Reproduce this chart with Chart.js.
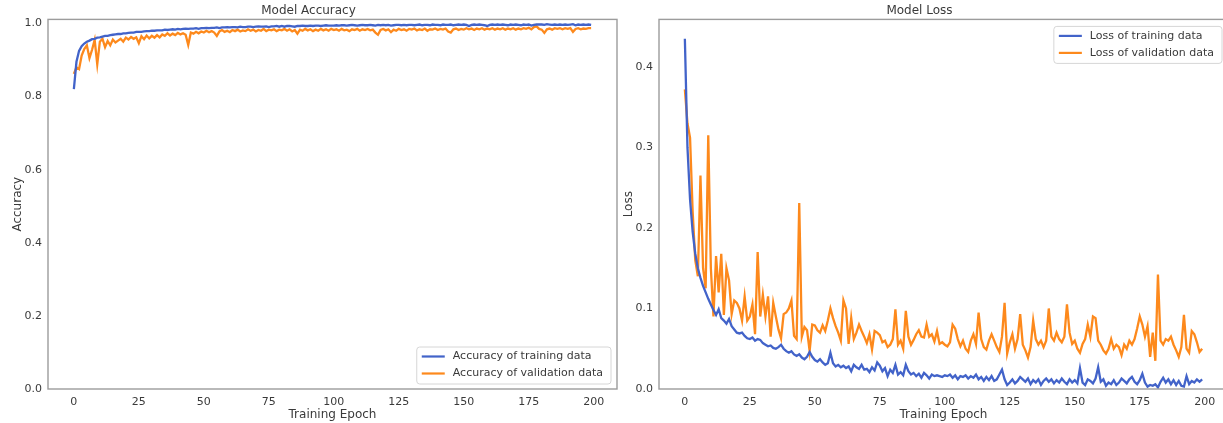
<!DOCTYPE html>
<html>
<head>
<meta charset="utf-8">
<title>Model Accuracy / Model Loss</title>
<script src="https://cdn.jsdelivr.net/npm/chart.js@4.4.1/dist/chart.umd.min.js"></script>
<style>
  html, body { margin: 0; padding: 0; background: #fff; overflow: hidden; }
  body { width: 1223px; height: 423px; position: relative; }
  .box { position: absolute; top: 0; width: 620px; height: 423px; }
  #accBox { left: 0; }
  #lossBox { left: 611px; }
</style>
</head>
<body>
<div class="box" id="accBox"><canvas id="accChart"></canvas></div>
<div class="box" id="lossBox"><canvas id="lossChart"></canvas></div>
<script>
// values, one per epoch (0..199)
const accTrain = [
  0.820, 0.895, 0.925, 0.938, 0.945, 0.950, 0.953, 0.957, 0.958, 0.961,
  0.962, 0.964, 0.966, 0.966, 0.968, 0.969, 0.970, 0.971, 0.971, 0.973,
  0.973, 0.974, 0.975, 0.975, 0.977, 0.977, 0.977, 0.978, 0.979, 0.979,
  0.980, 0.980, 0.981, 0.981, 0.981, 0.983, 0.982, 0.983, 0.984, 0.983,
  0.985, 0.984, 0.985, 0.986, 0.985, 0.986, 0.986, 0.987, 0.985, 0.987,
  0.987, 0.988, 0.987, 0.988, 0.988, 0.989, 0.987, 0.989, 0.989, 0.990,
  0.989, 0.990, 0.990, 0.989, 0.991, 0.990, 0.990, 0.991, 0.991, 0.990,
  0.991, 0.992, 0.991, 0.991, 0.992, 0.990, 0.992, 0.992, 0.993, 0.991,
  0.993, 0.991, 0.993, 0.993, 0.992, 0.991, 0.993, 0.993, 0.994, 0.993,
  0.993, 0.994, 0.993, 0.994, 0.994, 0.993, 0.994, 0.995, 0.994, 0.994,
  0.994, 0.995, 0.994, 0.995, 0.995, 0.994, 0.995, 0.996, 0.995, 0.994,
  0.995, 0.996, 0.995, 0.995, 0.996, 0.995, 0.994, 0.996, 0.995, 0.996,
  0.995, 0.996, 0.994, 0.995, 0.996, 0.996, 0.995, 0.996, 0.995, 0.996,
  0.996, 0.995, 0.996, 0.997, 0.995, 0.996, 0.996, 0.995, 0.997, 0.996,
  0.996, 0.995, 0.997, 0.996, 0.996, 0.997, 0.995, 0.996, 0.997, 0.996,
  0.997, 0.996, 0.993, 0.996, 0.997, 0.996, 0.997, 0.996, 0.995, 0.993,
  0.996, 0.997, 0.996, 0.997, 0.996, 0.997, 0.996, 0.995, 0.997, 0.996,
  0.997, 0.996, 0.995, 0.997, 0.996, 0.997, 0.994, 0.996, 0.997, 0.997,
  0.997, 0.996, 0.998, 0.997, 0.996, 0.997, 0.996, 0.997, 0.996, 0.997,
  0.996, 0.997, 0.998, 0.995, 0.997, 0.996, 0.997, 0.996, 0.997, 0.996
];
const accVal = [
  0.862, 0.880, 0.875, 0.912, 0.930, 0.940, 0.905, 0.928, 0.955, 0.888,
  0.950, 0.958, 0.935, 0.952, 0.940, 0.956, 0.948, 0.953, 0.958, 0.950,
  0.961, 0.956, 0.963, 0.958, 0.962, 0.946, 0.965, 0.957, 0.967, 0.959,
  0.966, 0.961, 0.968, 0.962, 0.970, 0.966, 0.973, 0.967, 0.972, 0.968,
  0.974, 0.970, 0.973, 0.969, 0.941, 0.975, 0.972, 0.977, 0.973, 0.978,
  0.975, 0.980, 0.976, 0.979, 0.975, 0.966, 0.978, 0.982, 0.977, 0.980,
  0.976, 0.982, 0.979, 0.983, 0.978, 0.981, 0.979, 0.984, 0.980, 0.983,
  0.978, 0.982, 0.980, 0.985, 0.979, 0.983, 0.981, 0.984, 0.979, 0.983,
  0.981, 0.985, 0.980, 0.984, 0.978, 0.982, 0.972, 0.983, 0.980, 0.985,
  0.981, 0.984, 0.979, 0.983, 0.980, 0.985, 0.981, 0.984, 0.980, 0.985,
  0.982, 0.984, 0.980, 0.985, 0.981, 0.983, 0.979, 0.984, 0.982, 0.985,
  0.980, 0.984, 0.982, 0.985, 0.981, 0.983, 0.975, 0.969, 0.982, 0.985,
  0.981, 0.984, 0.976, 0.983, 0.980, 0.985, 0.982, 0.984, 0.980, 0.985,
  0.983, 0.986, 0.981, 0.984, 0.982, 0.986, 0.980, 0.984, 0.983, 0.986,
  0.982, 0.985, 0.983, 0.986, 0.978, 0.975, 0.984, 0.986, 0.982, 0.985,
  0.983, 0.987, 0.984, 0.986, 0.982, 0.986, 0.984, 0.987, 0.983, 0.986,
  0.984, 0.987, 0.983, 0.986, 0.984, 0.987, 0.983, 0.986, 0.984, 0.987,
  0.983, 0.986, 0.984, 0.987, 0.985, 0.988, 0.984, 0.990, 0.992, 0.985,
  0.983, 0.974, 0.984, 0.986, 0.983, 0.987, 0.985, 0.987, 0.984, 0.987,
  0.985, 0.987, 0.977, 0.985, 0.987, 0.984, 0.986, 0.985, 0.987, 0.987
];
const lossTrain = [
  0.435, 0.300, 0.235, 0.195, 0.168, 0.150, 0.138, 0.128, 0.120, 0.112,
  0.105, 0.098, 0.092, 0.099, 0.088, 0.085, 0.081, 0.087, 0.078, 0.074,
  0.070, 0.069, 0.070, 0.066, 0.063, 0.062, 0.064, 0.060, 0.062, 0.061,
  0.057, 0.055, 0.053, 0.054, 0.051, 0.050, 0.052, 0.055, 0.050, 0.047,
  0.045, 0.047, 0.043, 0.041, 0.043, 0.039, 0.037, 0.040, 0.046, 0.040,
  0.036, 0.034, 0.037, 0.033, 0.030, 0.032, 0.045, 0.032, 0.028, 0.030,
  0.027, 0.029, 0.026, 0.028, 0.022, 0.030, 0.027, 0.025, 0.030, 0.024,
  0.025, 0.021, 0.027, 0.023, 0.033, 0.029, 0.022, 0.026, 0.016, 0.024,
  0.020, 0.030, 0.018, 0.021, 0.017, 0.030, 0.022, 0.018, 0.020, 0.016,
  0.019, 0.014, 0.020, 0.017, 0.013, 0.018, 0.016, 0.017, 0.016, 0.015,
  0.017, 0.016, 0.018, 0.014, 0.017, 0.012, 0.016, 0.015, 0.017, 0.013,
  0.016, 0.014, 0.018, 0.012, 0.015, 0.010, 0.015, 0.011, 0.016, 0.010,
  0.012, 0.018, 0.024, 0.012, 0.005, 0.008, 0.012, 0.007, 0.010, 0.015,
  0.012, 0.009, 0.013, 0.006, 0.011, 0.008, 0.012, 0.005, 0.010, 0.013,
  0.009, 0.012, 0.007, 0.011, 0.008, 0.013, 0.009, 0.006, 0.012, 0.008,
  0.011, 0.007, 0.026, 0.008, 0.005, 0.012, 0.010, 0.007, 0.013, 0.027,
  0.009, 0.012, 0.004, 0.008, 0.006, 0.011, 0.005, 0.008, 0.013, 0.010,
  0.007, 0.012, 0.015, 0.009, 0.006, 0.011, 0.019, 0.008, 0.003, 0.005,
  0.004, 0.006, 0.002, 0.009, 0.014, 0.008, 0.012, 0.006, 0.011, 0.005,
  0.010, 0.004, 0.003, 0.016, 0.006, 0.010, 0.008, 0.012, 0.009, 0.012
];
const lossVal = [
  0.372, 0.330, 0.312, 0.220, 0.160, 0.140, 0.265, 0.150, 0.125, 0.315,
  0.150, 0.090, 0.165, 0.120, 0.168, 0.092, 0.150, 0.135, 0.093, 0.110,
  0.107, 0.100, 0.085, 0.115, 0.085, 0.090, 0.105, 0.068, 0.170, 0.090,
  0.117, 0.090, 0.115, 0.065, 0.107, 0.090, 0.074, 0.063, 0.093, 0.095,
  0.100, 0.110, 0.066, 0.062, 0.231, 0.065, 0.077, 0.073, 0.047, 0.080,
  0.079, 0.073, 0.070, 0.079, 0.072, 0.085, 0.100, 0.088, 0.078, 0.070,
  0.060, 0.110, 0.100, 0.056, 0.088, 0.062, 0.070, 0.080, 0.072, 0.065,
  0.057, 0.068, 0.049, 0.072, 0.070, 0.067, 0.058, 0.060, 0.052, 0.055,
  0.062, 0.099, 0.055, 0.060, 0.050, 0.097, 0.065, 0.055, 0.061, 0.068,
  0.073, 0.065, 0.064, 0.080, 0.065, 0.068, 0.059, 0.072, 0.056, 0.058,
  0.055, 0.053, 0.058, 0.080, 0.075, 0.062, 0.053, 0.060, 0.050, 0.046,
  0.060, 0.068, 0.056, 0.095, 0.062, 0.052, 0.049, 0.060, 0.068, 0.060,
  0.052, 0.046, 0.065, 0.107, 0.044, 0.058, 0.068, 0.050, 0.062, 0.093,
  0.055, 0.048, 0.039, 0.052, 0.085, 0.062, 0.055, 0.060, 0.052, 0.060,
  0.100, 0.065, 0.060, 0.070, 0.062, 0.058, 0.065, 0.105, 0.070, 0.056,
  0.060, 0.050, 0.045, 0.056, 0.062, 0.080, 0.065, 0.090, 0.088, 0.060,
  0.055, 0.048, 0.044, 0.050, 0.062, 0.050, 0.055, 0.052, 0.042, 0.055,
  0.050, 0.060, 0.055, 0.062, 0.075, 0.090, 0.080, 0.065, 0.078, 0.040,
  0.070, 0.035, 0.142, 0.060, 0.055, 0.062, 0.060, 0.065, 0.055, 0.048,
  0.040, 0.052, 0.092, 0.050, 0.045, 0.072, 0.068, 0.058, 0.046, 0.050
];
const epochTicks = [0, 25, 50, 75, 100, 125, 150, 175, 200];
const accTicks = [0, 0.2, 0.4, 0.6, 0.8, 1.0];
const lossTicks = [0, 0.1, 0.2, 0.3, 0.4];

const BLUE = "#4263c9";
const ORANGE = "#fd891c";
const TEXT = "#3a3a3a";
const FONT = "'DejaVu Sans', sans-serif";

Chart.defaults.font.family = FONT;

function toPoints(values) {
  return values.map((v, i) => ({ x: i, y: v }));
}

// grey box round the plot, and the legend drawn inside it
const framePlugin = {
  id: "frame",
  afterDraw(chart, args, opts) {
    const { ctx, chartArea: a } = chart;
    ctx.save();
    ctx.strokeStyle = "#9c9c9c";
    ctx.lineWidth = 1.4;
    ctx.strokeRect(a.left, a.top, a.right - a.left, a.bottom - a.top);

    ctx.font = "11px " + FONT;
    const sets = chart.data.datasets;
    const tw = Math.max(...sets.map((d) => ctx.measureText(d.label).width));
    const w = 38 + tw + 6;
    const h = 37;
    const x = a.right - 6 - w;
    const y = opts.corner === "top" ? a.top + 7 : a.bottom - 5 - h;
    ctx.fillStyle = "rgba(255,255,255,0.85)";
    ctx.strokeStyle = "#d6d6d6";
    ctx.lineWidth = 1;
    ctx.beginPath();
    ctx.roundRect(x, y, w, h, 3);
    ctx.fill();
    ctx.stroke();
    sets.forEach((d, i) => {
      const ry = y + 9.5 + i * 17;
      ctx.strokeStyle = d.borderColor;
      ctx.lineWidth = 2.2;
      ctx.beginPath();
      ctx.moveTo(x + 5, ry);
      ctx.lineTo(x + 28, ry);
      ctx.stroke();
      ctx.fillStyle = TEXT;
      ctx.textBaseline = "middle";
      ctx.fillText(d.label, x + 36, ry);
    });
    ctx.restore();
  },
};

function makeChart(canvasId, title, yTitle, train, val, names, yTicks, yMax, corner) {
  return new Chart(document.getElementById(canvasId), {
    type: "line",
    data: {
      datasets: [
        { label: names[0], data: toPoints(train), borderColor: BLUE, borderWidth: 2.3 },
        { label: names[1], data: toPoints(val), borderColor: ORANGE, borderWidth: 2.3 },
      ],
    },
    options: {
      responsive: true,
      maintainAspectRatio: false,
      animation: false,
      elements: { point: { radius: 0 }, line: { tension: 0 } },
      layout: { padding: { left: 0, right: 3, top: 0, bottom: 0 } },
      plugins: {
        legend: { display: false },
        tooltip: { enabled: false },
        title: {
          display: true,
          text: title,
          color: TEXT,
          font: { size: 12, weight: "normal" },
          padding: { top: 4, bottom: 1 },
        },
        frame: { corner: corner },
      },
      scales: {
        x: {
          type: "linear",
          min: -9.95,
          max: 208.95,
          grid: { display: false, drawTicks: false },
          border: { display: false },
          afterBuildTicks: (s) => { s.ticks = epochTicks.map((v) => ({ value: v })); },
          afterFit: (s) => { s.height = 34; },
          ticks: { color: TEXT, font: { size: 11 }, padding: 7 },
          title: {
            display: true,
            text: "Training Epoch",
            color: TEXT,
            font: { size: 12 },
            padding: { top: 0, bottom: 1 },
          },
        },
        y: {
          min: 0,
          max: yMax,
          grid: { display: false, drawTicks: false },
          border: { display: false },
          afterBuildTicks: (s) => { s.ticks = yTicks.map((v) => ({ value: v })); },
          afterFit: (s) => { s.width = 48; },
          ticks: { color: TEXT, font: { size: 11 }, padding: 6, callback: (v) => v.toFixed(1) },
          title: {
            display: true,
            text: yTitle,
            color: TEXT,
            font: { size: 12 },
            padding: { top: 11, bottom: 0 },
          },
        },
      },
    },
    plugins: [framePlugin],
  });
}

makeChart("accChart", "Model Accuracy", "Accuracy", accTrain, accVal,
  ["Accuracy of training data", "Accuracy of validation data"], accTicks, 1.011, "bottom");
makeChart("lossChart", "Model Loss", "Loss", lossTrain, lossVal,
  ["Loss of training data", "Loss of validation data"], lossTicks, 0.459, "top");
</script>
</body>
</html>
